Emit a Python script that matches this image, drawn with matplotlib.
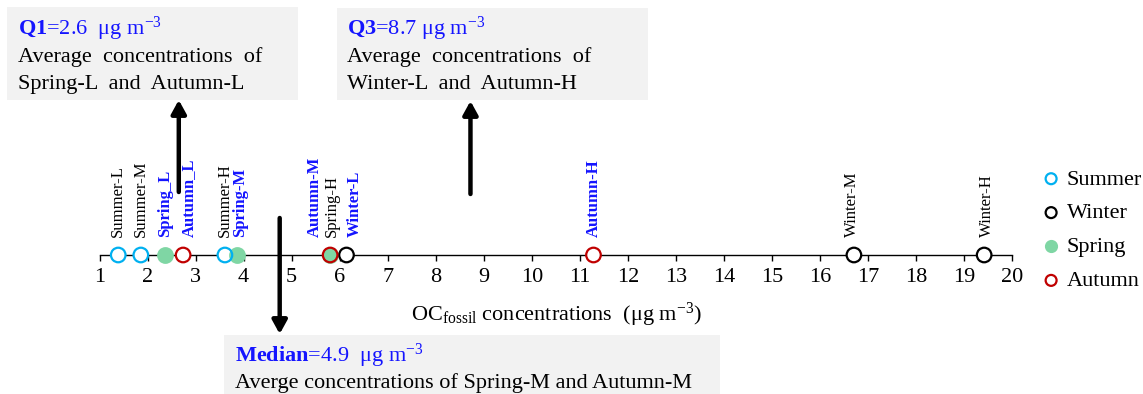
import matplotlib.pyplot as plt
from matplotlib.patches import Rectangle

plt.rcParams['font.family'] = 'Liberation Serif'
plt.rcParams['mathtext.fontset'] = 'custom'
plt.rcParams['mathtext.rm'] = 'Liberation Serif'
plt.rcParams['mathtext.bf'] = 'Liberation Serif:bold'
plt.rcParams['mathtext.it'] = 'Liberation Serif:italic'

# OC fossil concentrations (ug m-3) per season, L / M / H
summer_labels = ['Summer-L', 'Summer-M', 'Summer-H']
summer_vals = [1.39, 1.86, 3.61]
winter_labels = ['Winter-L', 'Winter-M', 'Winter-H']
winter_vals = [6.14, 16.70, 19.41]
spring_labels = ['Spring_L', 'Spring-M', 'Spring-H']
spring_vals = [2.36, 3.86, 5.80]
autumn_labels = ['Autumn_L', 'Autumn-M', 'Autumn-H']
autumn_vals = [2.74, 5.80, 11.28]

# labels drawn bold blue (used for Q1 / median / Q3)
highlighted = ['Spring_L', 'Autumn_L', 'Spring-M', 'Autumn-M', 'Winter-L', 'Autumn-H']

stat_names = ['Q1', 'Median', 'Q3']
stat_vals = [2.6, 4.9, 8.7]
stat_desc = [['Average  concentrations  of', 'Spring-L  and  Autumn-L'],
             ['Averge concentrations of Spring-M and Autumn-M'],
             ['Average  concentrations  of', 'Winter-L  and  Autumn-H']]
arrow_pos = [2.65, 4.75, 8.72]

xticks = list(range(1, 21))

# styling / layout
colors = {'Summer': '#00b0f0', 'Winter': 'black', 'Spring': '#7fd6a4', 'Autumn': '#c00000'}
blue = '#1414ff'
px = 913 / 19.0  # pixels per unit
label_dx = {'Autumn_L': 6, 'Spring-M': 3, 'Autumn-M': -15, 'Spring-H': 2,
            'Winter-L': 8, 'Winter-M': -2, 'Winter-H': 3}
y_axis = 255

fig = plt.figure(figsize=(11.43, 3.94), dpi=100)
ax = fig.add_axes([99.5 / 1143, 0, 913 / 1143, 1])
ax.set_xlim(1, 20)
ax.set_ylim(394, 0)
for s in ['left', 'right', 'top']:
    ax.spines[s].set_visible(False)
ax.spines['bottom'].set_position(('data', y_axis))
ax.spines['bottom'].set_linewidth(1.0)
ax.patch.set_visible(False)
ax.set_yticks([])
ax.set_xticks(xticks)
ax.tick_params(axis='x', direction='out', length=4, width=1, labelsize=16, pad=5)

handles = {}
# white discs under the open circles so the axis line is hidden
for vals in [summer_vals, winter_vals, autumn_vals]:
    ax.scatter(vals, [y_axis] * len(vals), s=110, facecolors='white', edgecolors='none',
               zorder=3, clip_on=False)
handles['Spring'] = ax.scatter(spring_vals, [y_axis] * len(spring_vals), s=110,
                               facecolors=colors['Spring'], edgecolors=colors['Spring'],
                               linewidths=1.6, zorder=4, clip_on=False)
for season, vals in [('Summer', summer_vals), ('Winter', winter_vals), ('Autumn', autumn_vals)]:
    handles[season] = ax.scatter(vals, [y_axis] * len(vals), s=110, facecolors='none',
                                 edgecolors=colors[season], linewidths=1.6, zorder=5,
                                 clip_on=False)

for labels, vals in [(summer_labels, summer_vals), (winter_labels, winter_vals),
                     (spring_labels, spring_vals), (autumn_labels, autumn_vals)]:
    for lab, v in zip(labels, vals):
        hl = lab in highlighted
        ax.text(v + label_dx.get(lab, 0) / px, 237, lab, rotation=90, ha='center', va='bottom',
                fontsize=12, color=blue if hl else 'black', fontweight='bold' if hl else 'normal')

ax.text(10.5, 321, r'OC$_{\mathregular{fossil}}$ concentrations  (μg m$^{\mathregular{-3}}$)',
        ha='center', va='baseline', fontsize=16)

order = ['Summer', 'Winter', 'Spring', 'Autumn']
ax.legend([handles[k] for k in order], order, loc='upper left',
          bbox_to_anchor=(1040 / 1143, 1 - 169 / 394), bbox_transform=fig.transFigure,
          frameon=False, fontsize=16, handletextpad=0.2, labelspacing=0.6,
          handlelength=1.0, markerscale=0.75, borderpad=0, borderaxespad=0)

# arrows
tails = [192, 218, 194]
tips = [100, 334, 101]
for x, t0, t1 in zip(arrow_pos, tails, tips):
    ax.annotate('', xy=(x, t1), xytext=(x, t0),
                arrowprops=dict(arrowstyle='-|>,head_length=0.4,head_width=0.22',
                                mutation_scale=20, lw=3.2, color='black',
                                shrinkA=0, shrinkB=0), annotation_clip=False)

# annotation boxes in pixel coordinates
ov = fig.add_axes([0, 0, 1, 1])
ov.set_xlim(0, 1143)
ov.set_ylim(394, 0)
ov.axis('off')
boxes = [(7, 7, 291, 93), (224, 335, 496, 70), (337, 8, 311, 92)]
text_x = [18, 235, 347]
line1_y = [35, 362, 35]
for (bx, by, bw, bh), tx, ty, name, val, desc in zip(boxes, text_x, line1_y,
                                                      stat_names, stat_vals, stat_desc):
    ov.add_patch(Rectangle((bx, by), bw, bh, facecolor='#f2f2f2', edgecolor='none', zorder=0))
    gap = ' ' if name == 'Q3' else '  '
    ov.text(tx, ty, r'$\mathbf{%s}$=%.1f%sμg m$^{\mathregular{-3}}$' % (name, val, gap),
            color=blue, fontsize=16, va='baseline', ha='left')
    for i, line in enumerate(desc):
        ov.text(tx, ty + 27 * (i + 1) - (1 if name == 'Median' else 0), line,
                color='black', fontsize=16, va='baseline', ha='left')

fig.savefig('out.png', dpi=100)
